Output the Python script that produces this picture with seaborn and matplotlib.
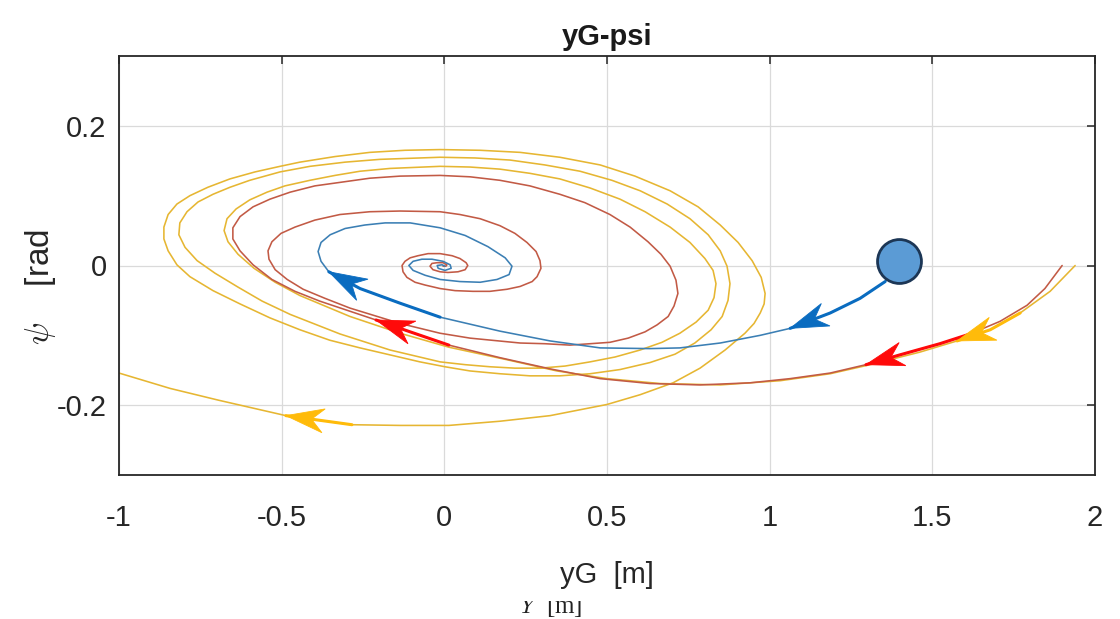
import numpy as np
import pandas as pd
import matplotlib
matplotlib.use("Agg")
import matplotlib.pyplot as plt
from matplotlib.patches import Polygon
from matplotlib.transforms import IdentityTransform, Bbox
import seaborn as sns

# ---- phase-plane trajectories: lateral position yG [m] vs yaw angle psi [rad] ----
blue_yg = [1.397, 1.355, 1.278, 1.186, 1.063, 0.971, 0.848, 0.724, 0.632, 0.479,
           0.325, 0.171, -0.013, -0.136, -0.259, -0.355,
           -0.379, -0.388, -0.379, -0.351, -0.305, -0.244, -0.182, -0.105, -0.013, 0.064,
           0.134, 0.187, 0.208, 0.199, 0.162, 0.110, 0.048, -0.013, -0.059, -0.096,
           -0.109, -0.096, -0.069, -0.038, -0.004, 0.018, 0.021, 0.002, -0.019, -0.022,
           -0.007, 0.002]
blue_psi = [0.006, -0.023, -0.047, -0.068, -0.090, -0.100, -0.111, -0.118, -0.119, -0.118,
            -0.108, -0.094, -0.074, -0.054, -0.033, -0.009,
            0.006, 0.020, 0.033, 0.044, 0.053, 0.058, 0.061, 0.061, 0.054, 0.043,
            0.027, 0.011, -0.001, -0.013, -0.020, -0.024, -0.023, -0.020, -0.014, -0.007,
            0.000, 0.006, 0.009, 0.009, 0.006, 0.001, -0.004, -0.007, -0.004, 0.000,
            0.001, -0.001]

red_yg = [1.899, 1.846, 1.791, 1.708, 1.616, 1.523, 1.400, 1.296, 1.186, 1.063,
          0.940, 0.786, 0.632, 0.479, 0.325, 0.171, 0.014, -0.105, -0.210,
          -0.383, -0.459, -0.530, -0.588, -0.628, -0.650, -0.650, -0.628, -0.588, -0.536,
          -0.474, -0.398, -0.321, -0.229, -0.136, -0.013, 0.079, 0.171, 0.263, 0.355,
          0.432, 0.509, 0.571, 0.626, 0.666, 0.694, 0.712, 0.718, 0.706, 0.688,
          0.654, 0.617, 0.565, 0.509, 0.448, 0.386, 0.309, 0.233, 0.079, -0.013,
          -0.136, -0.290, -0.367, -0.434, -0.483, -0.520, -0.539, -0.542, -0.530, -0.502,
          -0.459, -0.398, -0.321, -0.229, -0.136, -0.013, 0.048, 0.110, 0.171, 0.217,
          0.254, 0.282, 0.294, 0.297, 0.285, 0.270, 0.233, 0.193, 0.140, 0.088,
          0.033, -0.013, -0.059, -0.090, -0.115, -0.127, -0.130, -0.121, -0.105, -0.081,
          -0.050, -0.013, 0.024, 0.048, 0.067, 0.072, 0.064, 0.042, 0.011, -0.013,
          -0.035, -0.044, -0.038, -0.022, -0.004, 0.008, 0.005, -0.004]
red_psi = [0.000, -0.033, -0.057, -0.080, -0.098, -0.112, -0.128, -0.142, -0.154, -0.162,
           -0.168, -0.171, -0.169, -0.162, -0.148, -0.132, -0.114, -0.095, -0.078,
           -0.051, -0.037, -0.020, 0.001, 0.021, 0.038, 0.054, 0.070, 0.084, 0.095,
           0.105, 0.114, 0.119, 0.125, 0.128, 0.129, 0.127, 0.122, 0.114, 0.102,
           0.090, 0.073, 0.055, 0.034, 0.016, -0.001, -0.021, -0.040, -0.058, -0.073,
           -0.085, -0.095, -0.104, -0.110, -0.112, -0.114, -0.112, -0.111, -0.104, -0.097,
           -0.083, -0.061, -0.047, -0.034, -0.020, -0.006, 0.009, 0.021, 0.034, 0.046,
           0.055, 0.065, 0.073, 0.077, 0.078, 0.077, 0.073, 0.067, 0.057, 0.046,
           0.033, 0.020, 0.007, -0.004, -0.016, -0.023, -0.030, -0.034, -0.037, -0.037,
           -0.036, -0.033, -0.028, -0.024, -0.017, -0.009, 0.000, 0.006, 0.011, 0.014,
           0.017, 0.017, 0.014, 0.010, 0.004, 0.000, -0.006, -0.009, -0.010, -0.009,
           -0.006, -0.001, 0.003, 0.004, 0.004, 0.001, -0.001, -0.001]

yellow_yg = [1.939, 1.862, 1.770, 1.678, 1.576, 1.462, 1.309, 1.186, 1.032, 0.848,
             0.663, 0.500, 0.346, 0.193, 0.014, -0.136, -0.290,
             -0.444, -0.520, -0.585, -0.634, -0.665, -0.677, -0.668, -0.640, -0.598, -0.545,
             -0.490, -0.413, -0.336, -0.259, -0.167, -0.013, 0.079, 0.171, 0.263, 0.355,
             0.448, 0.540, 0.617, 0.694, 0.755, 0.801, 0.826, 0.835, 0.829, 0.811,
             0.774, 0.724, 0.669, 0.602, 0.525, 0.448, 0.371, 0.294, 0.217, 0.140,
             0.064, -0.013,
             -0.167, -0.321, -0.474, -0.560, -0.634, -0.705, -0.760, -0.797, -0.816, -0.813,
             -0.791, -0.757, -0.711, -0.659, -0.598, -0.505, -0.413, -0.305, -0.198, -0.013,
             0.094, 0.202, 0.309, 0.417, 0.515, 0.602, 0.685, 0.755, 0.811, 0.848,
             0.869, 0.878, 0.872, 0.854, 0.820, 0.770, 0.709, 0.632, 0.540, 0.448,
             0.355, 0.263, 0.171, 0.079, 0.002, -0.075,
             -0.259, -0.352, -0.444, -0.536, -0.628, -0.711, -0.782, -0.822, -0.849, -0.862,
             -0.862, -0.849, -0.822, -0.782, -0.727, -0.659, -0.582, -0.505, -0.444, -0.336,
             -0.229, -0.121, -0.013, 0.110, 0.233, 0.355, 0.479, 0.586, 0.694, 0.780,
             0.848, 0.903, 0.946, 0.974, 0.986, 0.983, 0.971, 0.952, 0.924, 0.863,
             0.786, 0.703, 0.602, 0.500, 0.325, 0.171, 0.014, -0.136, -0.284, -0.487,
             -0.693, -0.843, -1.000]
yellow_psi = [0.000, -0.037, -0.068, -0.092, -0.108, -0.124, -0.142, -0.155, -0.165, -0.171,
              -0.169, -0.162, -0.151, -0.135, -0.117, -0.097, -0.073,
              -0.043, -0.024, -0.004, 0.016, 0.034, 0.050, 0.067, 0.081, 0.094, 0.105,
              0.114, 0.122, 0.129, 0.135, 0.139, 0.142, 0.141, 0.138, 0.132, 0.124,
              0.111, 0.095, 0.077, 0.055, 0.033, 0.010, -0.007, -0.026, -0.046, -0.064,
              -0.081, -0.097, -0.110, -0.121, -0.131, -0.138, -0.144, -0.147, -0.147, -0.145,
              -0.142, -0.138,
              -0.121, -0.098, -0.070, -0.051, -0.031, -0.011, 0.007, 0.026, 0.044, 0.061,
              0.077, 0.091, 0.102, 0.112, 0.122, 0.134, 0.142, 0.148, 0.152, 0.155,
              0.154, 0.151, 0.144, 0.135, 0.122, 0.107, 0.088, 0.067, 0.044, 0.021,
              -0.001, -0.026, -0.050, -0.073, -0.092, -0.111, -0.127, -0.139, -0.149, -0.155,
              -0.158, -0.158, -0.155, -0.151, -0.145, -0.138,
              -0.118, -0.107, -0.092, -0.075, -0.055, -0.036, -0.016, 0.001, 0.021, 0.038,
              0.055, 0.073, 0.088, 0.100, 0.112, 0.124, 0.134, 0.142, 0.148, 0.156,
              0.162, 0.165, 0.166, 0.165, 0.162, 0.155, 0.144, 0.128, 0.107, 0.084,
              0.058, 0.033, 0.007, -0.017, -0.040, -0.055, -0.068, -0.083, -0.097, -0.121,
              -0.147, -0.168, -0.185, -0.199, -0.215, -0.223, -0.229, -0.229, -0.228, -0.215,
              -0.193, -0.176, -0.154]

# direction arrows along each trajectory: (tip index, shaft start index);
# negative indices count from the end of the trajectory
blue_arrows = [(4, 1), (15, 12)]
red_arrows = [(7, 4), (18, 16)]
yellow_arrows = [(4, 2), (-4, -5)]

x_ticks = [-1, -0.5, 0, 0.5, 1, 1.5, 2]
x_tick_labels = ["-1", "-0.5", "0", "0.5", "1", "1.5", "2"]
y_ticks = [-0.2, 0, 0.2]
y_tick_labels = ["-0.2", "0", "0.2"]

title_text = "yG-psi"
x_label = "yG  [m]"
y_label = r"$\psi$    [rad"
under_label = r"$Y$  [m]"

line_colors = {"blue": "#3b7fb4", "red": "#c25a45", "yellow": "#e6b632"}
arrow_colors = {"blue": "#0a6cc0", "red": "#ff0a0a", "yellow": "#ffbb0a"}
marker_face = "#5b9bd5"
marker_edge = "#1c3655"
ink = "#262626"

# ---- styling ----
sns.set_theme(style="white")
plt.rcParams["font.family"] = ["Liberation Sans", "DejaVu Sans"]
plt.rcParams["mathtext.fontset"] = "cm"

W, H = 1120, 619
fig = plt.figure(figsize=(W / 100, H / 100), dpi=100)
fig.patch.set_facecolor("white")
ax = fig.add_axes([119 / W, (H - 475) / H, (1095 - 119) / W, (475 - 56) / H])

ax.set_xlim(-1, 2)
ax.set_ylim(-0.3, 0.3)
ax.set_xticks(x_ticks)
ax.set_xticklabels(x_tick_labels)
ax.set_yticks(y_ticks)
ax.set_yticklabels(y_tick_labels)
ax.grid(True, color="#dadada", linewidth=0.9)
ax.set_axisbelow(True)
for s in ax.spines.values():
    s.set_color(ink)
    s.set_linewidth(1.3)
    s.set_visible(True)
ax.tick_params(axis="both", direction="in", length=6, width=1.1, colors=ink,
               top=True, right=True, labelsize=21)
ax.tick_params(axis="x", pad=21)
ax.tick_params(axis="y", pad=9)

curves = {
    "yellow": (yellow_yg, yellow_psi, yellow_arrows),
    "red": (red_yg, red_psi, red_arrows),
    "blue": (blue_yg, blue_psi, blue_arrows),
}

for name, (xs, ys, _) in curves.items():
    df = pd.DataFrame({"yG": xs, "psi": ys})
    sns.lineplot(data=df, x="yG", y="psi", sort=False, estimator=None, ax=ax,
                 color=line_colors[name], linewidth=1.15, zorder=2)

ax.set_xlabel("")
ax.set_ylabel("")


def arrow_head(xs, ys, tip, color, length=38.0, half_width=12.0, notch=0.68):
    to_px = ax.transData.transform
    p_tip = to_px((xs[tip], ys[tip]))
    p_prev = to_px((xs[tip - 1], ys[tip - 1]))
    d = p_tip - p_prev
    d = d / np.hypot(*d)
    n = np.array([-d[1], d[0]])
    pts = [p_tip,
           p_tip - length * d + half_width * n,
           p_tip - notch * length * d,
           p_tip - length * d - half_width * n]
    head = Polygon(pts, closed=True, facecolor=color, edgecolor=color,
                   linewidth=0.6, transform=IdentityTransform(), zorder=6)
    ax.add_artist(head)


for name, (xs, ys, arrows) in curves.items():
    n_pts = len(xs)
    for tip, start in arrows:
        tip, start = tip % n_pts, start % n_pts
        ax.plot(xs[start:tip + 1], ys[start:tip + 1], color=arrow_colors[name],
                linewidth=2.2, solid_capstyle="round", zorder=5)
        arrow_head(xs, ys, tip, arrow_colors[name])

# starting point of the blue trajectory
ax.scatter([blue_yg[0]], [blue_psi[0]], s=1000, color=marker_face,
           edgecolor=marker_edge, linewidth=2.0, zorder=10, clip_on=False)

# ---- texts ----
fig.text(607 / W, 1 - 45 / H, title_text, ha="center", va="baseline",
         fontsize=21, fontweight="bold", color="#1a1a1a")
fig.text(607 / W, 1 - 583 / H, x_label, ha="center", va="baseline",
         fontsize=21, color=ink)
fig.text(40 / W, 1 - 287 / H, y_label, ha="center", va="center", rotation=90,
         fontsize=24, color=ink)

# secondary axis caption, only its lower part is shown
cap = fig.text(551 / W, 6 / H, under_label, ha="center", va="baseline",
               fontsize=18, color="#222222", family=["Liberation Serif", "DejaVu Serif"])
cap.set_clip_box(Bbox.from_extents(0, 0, W, 18))
cap.set_clip_on(True)

fig.savefig("out.png", dpi=100, facecolor="white")
